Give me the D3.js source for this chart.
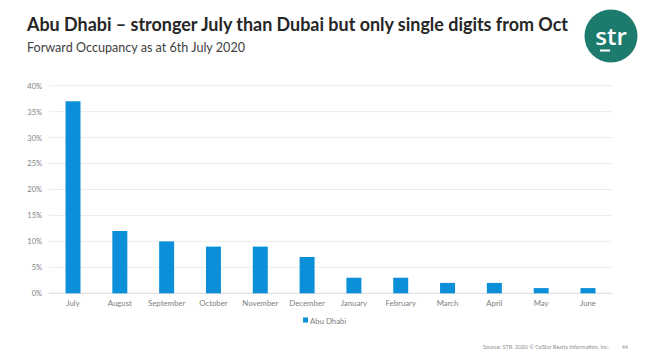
<!DOCTYPE html>
<html><head><meta charset="utf-8">
<script src="https://cdn.jsdelivr.net/npm/d3@7"></script>
<style>body{margin:0;background:#fff;}svg{display:block;}</style>
</head><body>
<svg id="c" width="649" height="363"></svg>
<script>
const months = ["July","August","September","October","November","December","January","February","March","April","May","June"];
const occupancy = [37,12,10,9,9,7,3,3,2,2,1,1];
const yTicks = [0,5,10,15,20,25,30,35,40];
const seriesName = "Abu Dhabi";
const title = "Abu Dhabi \u2013 stronger July than Dubai but only single digits from Oct";
const subtitle = "Forward Occupancy as at 6th July 2020";
const source = "Source: STR. 2020 \u00A9 CoStar Realty Information, Inc.";
const pageNo = "44";

const svg = d3.select("#c");
const font = "Lato, 'Open Sans', sans-serif";
const x = d3.scaleBand().domain(months).range([49.6, 611.4]).paddingInner(0.68).paddingOuter(0.34);
const y = d3.scaleLinear().domain([0,40]).range([293.3, 85.7]);

// gridlines
svg.append("g").selectAll("line").data(yTicks).join("line")
  .attr("x1",49).attr("x2",612).attr("y1",d=>y(d)).attr("y2",d=>y(d))
  .attr("stroke",d=>d===0?"#d9d9d9":"#ececec").attr("stroke-width",1);

// y axis labels
const yAxis = d3.axisLeft(y).tickValues(yTicks).tickFormat(d=>d+"%").tickSize(0).tickPadding(0);
const gy = svg.append("g").attr("transform","translate(42,0)").call(yAxis);
gy.select(".domain").remove();
gy.selectAll("text").attr("fill","#808080").style("font-family",font).style("font-size","7.5px");

// bars
svg.append("g").selectAll("rect").data(occupancy).join("rect")
  .attr("x",(d,i)=>x(months[i])).attr("width",x.bandwidth())
  .attr("y",d=>y(d)).attr("height",d=>y(0)-y(d)).attr("fill","#0b8fd9");

// x axis labels
const xAxis = d3.axisBottom(x).tickSize(0).tickPadding(0);
const gx = svg.append("g").attr("transform","translate(0,300.5)").call(xAxis);
gx.select(".domain").remove();
gx.selectAll("text").attr("fill","#808080").style("font-family",font).style("font-size","7.8px");

// legend
svg.append("rect").attr("x",303).attr("y",317.5).attr("width",5).attr("height",5).attr("fill","#0b8fd9");
svg.append("text").attr("x",310).attr("y",323.5).text(seriesName)
  .attr("fill","#808080").style("font-family",font).style("font-size","7.8px");

// titles
svg.append("text").attr("x",27).attr("y",31).text(title)
  .attr("fill","#262626").style("font-family",font).style("font-weight","bold").style("font-size","19px")
  .attr("textLength",541).attr("lengthAdjust","spacingAndGlyphs");
svg.append("text").attr("x",27).attr("y",52).text(subtitle)
  .attr("fill","#404040").style("font-family",font).style("font-size","13px")
  .attr("textLength",218).attr("lengthAdjust","spacingAndGlyphs");

// source
svg.append("text").attr("x",483).attr("y",349).text(source)
  .attr("fill","#8c8c8c").style("font-family",font).style("font-size","5px")
  .attr("textLength",126).attr("lengthAdjust","spacingAndGlyphs");
svg.append("text").attr("x",622).attr("y",349).text(pageNo)
  .attr("fill","#8c8c8c").style("font-family",font).style("font-size","5px");

// logo
svg.append("circle").attr("cx",611).attr("cy",36).attr("r",26.5).attr("fill","#1d7b6d");
svg.append("text").attr("x",611).attr("y",45).attr("text-anchor","middle").text("str")
  .attr("fill","#fff").style("font-family","'Open Sans', sans-serif").style("font-weight","600").style("font-size","24px");
svg.append("rect").attr("x",600).attr("y",49.5).attr("width",10).attr("height",2).attr("fill","#fff");
</script>
</body></html>
